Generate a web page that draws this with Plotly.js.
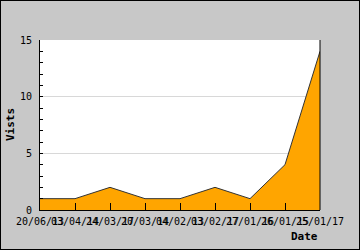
<!DOCTYPE html>
<html>
<head>
<meta charset="utf-8">
<script src="https://cdn.plot.ly/plotly-3.0.1.min.js"></script>
<style>
html,body{margin:0;padding:0;background:#c8c8c8;}
#chart{width:358px;height:248px;border:1px solid #000;}
</style>
</head>
<body>
<div id="chart"></div>
<script>
const dates = ["20/06/13","03/04/14","24/03/17","20/03/14","04/02/13","03/02/17","27/01/16","26/01/15","25/01/17"];
const visits = [1,1,2,1,1,2,1,4,14];
const yTicks = [0,5,10,15];

const font = "DejaVu Sans Mono, monospace";

const trace = {
  x: dates,
  y: visits,
  type: "scatter",
  mode: "lines",
  fill: "tozeroy",
  fillcolor: "#ffa500",
  line: {color: "#333333", width: 1},
  hoverinfo: "skip"
};

const layout = {
  width: 358,
  height: 248,
  margin: {l: 39, r: 39, t: 39, b: 39},
  paper_bgcolor: "#c8c8c8",
  plot_bgcolor: "#ffffff",
  showlegend: false,
  font: {family: font, size: 10, color: "#000"},
  xaxis: {
    type: "category",
    range: [0, dates.length - 1],
    showgrid: false,
    zeroline: false,
    showline: true,
    linecolor: "#000",
    linewidth: 1,
    ticks: "inside",
    ticklen: 7,
    tickcolor: "#000",
    tickangle: 0,
    ticklabelstandoff: 2,
    tickfont: {family: font, size: 10, color: "#000"},
    fixedrange: true
  },
  yaxis: {
    range: [0, 15],
    tickvals: yTicks,
    showgrid: true,
    gridcolor: "#d8d8d8",
    zeroline: false,
    showline: true,
    linecolor: "#000",
    linewidth: 1,
    ticks: "inside",
    ticklen: 3,
    tickcolor: "#000",
    ticklabelstandoff: 5,
    tickfont: {family: font, size: 10, color: "#000"},
    minor: {dtick: 1, ticks: "inside", ticklen: 3, tickcolor: "#000", showgrid: false},
    fixedrange: true
  },
  shapes: [
    {type: "line", xref: "paper", yref: "paper", x0: 1, x1: 1, y0: 0, y1: 1, line: {color: "#000", width: 1}}
  ],
  annotations: [
    {text: "<b>Date</b>", xref: "paper", yref: "paper", x: 1, y: 0, xanchor: "right", yanchor: "top", yshift: -18, showarrow: false, font: {family: font, size: 11, color: "#000"}},
    {text: "<b>Vists</b>", xref: "paper", yref: "paper", x: 0, y: 0.5, xanchor: "center", yanchor: "middle", xshift: -30, textangle: -90, showarrow: false, font: {family: font, size: 11, color: "#000"}}
  ]
};

Plotly.newPlot("chart", [trace], layout, {displayModeBar: false, staticPlot: true});
</script>
</body>
</html>
